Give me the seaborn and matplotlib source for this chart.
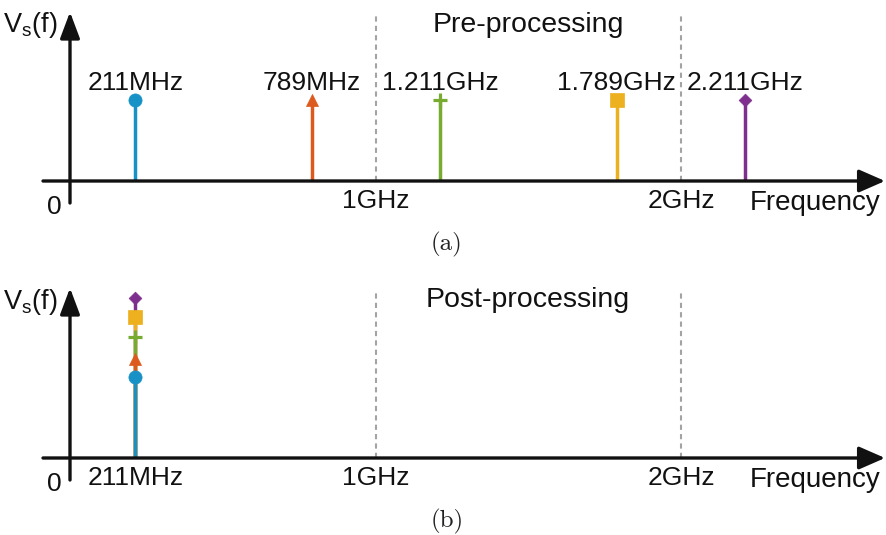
import matplotlib
matplotlib.use("Agg")
import matplotlib.pyplot as plt
from matplotlib.patches import FancyArrowPatch
import seaborn as sns

sns.set_theme(style="white")
plt.rcParams['font.family'] = ['Liberation Sans', 'DejaVu Sans']

# tones (GHz) and relative amplitudes
freqs_pre = [0.211, 0.789, 1.211, 1.789, 2.211]
amps_pre = [1.0, 1.0, 1.0, 1.0, 1.0]
freqs_post = [0.211, 0.211, 0.211, 0.211, 0.211]
amps_post = [1.0, 1.22, 1.49, 1.74, 1.98]
tone_labels = ["211MHz", "789MHz", "1.211GHz", "1.789GHz", "2.211GHz"]
tone_colors = ["#1892c6", "#dd5a1e", "#77ac30", "#edb120", "#7e2f8e"]
tone_markers = ["o", "^", "+", "s", "D"]
marker_sizes = [90, 75, 95, 90, 42]
grid_freqs = [1, 2]
ticks_pre = [1, 2]
ticklabels_pre = ["1GHz", "2GHz"]
ticks_post = [0.211, 1, 2]
ticklabels_post = ["211MHz", "1GHz", "2GHz"]

PX = 81.0          # pixels per amplitude unit
GHZ = 305.0        # pixels per GHz
X0 = 71.0          # pixel position of 0 Hz
FS = 19
INK = "#111111"

fig = plt.figure(figsize=(8.87, 5.35), dpi=100)


def px(h):
    return h / PX


def fx(p):
    return (p - X0) / GHZ


def panel(ax, freqs, amps, title, tag, ticks, ticklabels, tone_text, below, above):
    ax.set_axis_off()
    # dashed guides
    ax.vlines(grid_freqs, 0, px(167), colors="#a3a3a3", lw=1.5,
              linestyles=(0, (2.5, 2)), zorder=1)
    # stems, tallest first so the short ones sit on top
    order = sorted(range(len(freqs)), key=lambda i: -amps[i])
    for z, i in enumerate(order):
        ax.vlines(freqs[i], 0, amps[i], colors=tone_colors[i], lw=2.5, zorder=2 + z * 0.01)
    for i in range(len(freqs)):
        kw = dict(linewidth=2.3) if tone_markers[i] == "+" else dict(linewidth=0.5, edgecolor=tone_colors[i])
        sns.scatterplot(x=[freqs[i]], y=[amps[i]], marker=tone_markers[i], s=marker_sizes[i],
                        color=tone_colors[i], ax=ax, zorder=4, legend=False, **kw)
        if tone_text:
            ax.text(freqs[i], px(91), tone_labels[i], ha="center", va="baseline", fontsize=FS, color=INK)
    # axes with arrows
    ax.add_patch(FancyArrowPatch((fx(43), 0), (fx(885), 0), arrowstyle="-|>,head_length=16,head_width=7",
                                 mutation_scale=1, lw=2.4, color=INK, shrinkA=0, shrinkB=0, zorder=3))
    ax.add_patch(FancyArrowPatch((fx(70), px(-22)), (fx(70), px(above)), arrowstyle="-|>,head_length=16,head_width=6",
                                 mutation_scale=1, lw=2.4, color=INK, shrinkA=0, shrinkB=0, zorder=3))
    for t, l in zip(ticks, ticklabels):
        ax.text(t, px(-27), l, ha="center", va="baseline", fontsize=FS, color=INK)
    ax.text(fx(54.5), px(-33), "0", ha="center", va="baseline", fontsize=FS, color=INK)
    ax.text(fx(815), px(-29), "Frequency", ha="center", va="baseline", fontsize=20, color=INK)
    ax.text(fx(3), px(149), r"V$_\mathregular{s}$(f)", ha="left", va="baseline", fontsize=19.5, color=INK)
    ax.text(fx(528), px(title[1]), title[0], ha="center", va="baseline", fontsize=20.5, color=INK)
    ax.text(fx(447), px(-63), tag, ha="center", va="center", fontsize=18, family="cmr10", color="#222222")
    ax.set_xlim(fx(0), fx(887))
    ax.set_ylim(px(-below), px(267.5 - below))


ax1 = fig.add_axes([0, 0.5, 1, 0.5])
panel(ax1, freqs_pre, amps_pre, ("Pre-processing", 149), "(a)", ticks_pre, ticklabels_pre,
      True, 86.5, 169)
ax2 = fig.add_axes([0, 0, 1, 0.5])
panel(ax2, freqs_post, amps_post, ("Post-processing", 151), "(b)", ticks_post, ticklabels_post,
      False, 77, 170)

fig.savefig("out.png", dpi=100)
